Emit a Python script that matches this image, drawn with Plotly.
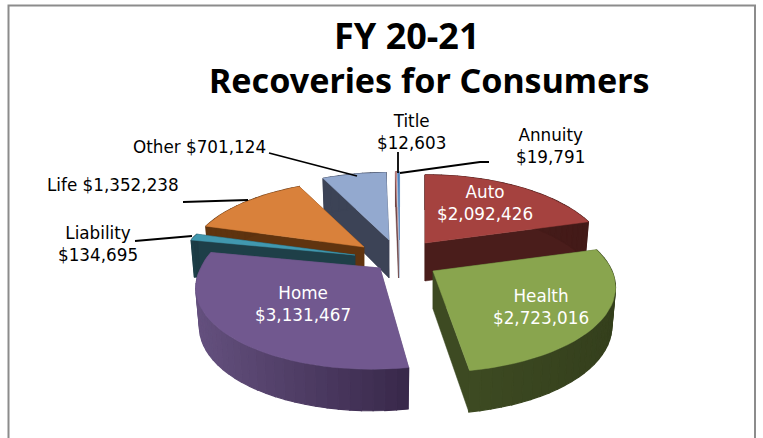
import math
import plotly.graph_objects as go

# ---- data (clockwise from 12 o'clock) ----
categories = ["Auto", "Health", "Home", "Liability", "Life", "Other", "Title", "Annuity"]
values = [2092426, 2723016, 3131467, 134695, 1352238, 701124, 12603, 19791]
value_labels = ["$2,092,426", "$2,723,016", "$3,131,467", "$134,695", "$1,352,238", "$701,124", "$12,603", "$19,791"]

# ---- styling / layout ----
top_colors = ["#A5423F", "#89A54E", "#71588F", "#4198AF", "#D9813B", "#93A9CF", "#D19392", "#4F81BD"]
side_light = ["#4A1D1B", "#3D4A22", "#64507E", "#1E3F48", "#60340F", "#3C4356", "#6E4544", "#B9C9DE"]
side_dark = ["#431A18", "#343F1C", "#38284A", "#1B3A43", "#5A300E", "#3C4356", "#6E4544", "#B9C9DE"]
apex = [(425, 243), (433, 271), (380, 268), (355, 255), (364, 247), (389, 240), (398.5, 240), (399.5, 240)]
scale = [1.0, 1.0, 1.0, 0.97, 0.97, 0.99, 1.0, 1.0]
lean = [0, 0, -8, 0, 0, 0, 0, 0]
draw_order = [0, 5, 6, 7, 4, 3, 2, 1]

A, B, PERSP = 179.0, 81.5, 0.195
start_angle = 0.0
total = sum(values)


def project(theta, ap, k, ln, bottom=False):
    x, y = math.sin(theta), math.cos(theta)
    s = 1 / (1 + PERSP * y)
    dx = A * x * s * k + ln * max(0.0, -y)
    dy = -B * y * s * k
    if bottom:
        return ap[0] + dx * 0.98, ap[1] + dy + 38 - 3.5 * y
    return ap[0] + dx, ap[1] + dy


def lerp_hex(c1, c2, t):
    a = [int(c1[i:i + 2], 16) for i in (1, 3, 5)]
    b = [int(c2[i:i + 2], 16) for i in (1, 3, 5)]
    return "#%02X%02X%02X" % tuple(round(p + (q - p) * t) for p, q in zip(a, b))


fig = go.Figure()


def poly(pts, color, w=0.5):
    xs = [p[0] for p in pts] + [pts[0][0]]
    ys = [p[1] for p in pts] + [pts[0][1]]
    fig.add_trace(go.Scatter(x=xs, y=ys, mode="lines", fill="toself", fillcolor=color,
                             line=dict(color=color, width=w), hoverinfo="skip", showlegend=False))


spans = []
acc = start_angle
for v in values:
    a0 = acc
    acc += v / total * 2 * math.pi
    spans.append((a0, acc))

for i in draw_order:
    a0, a1 = spans[i]
    ap, k, ln = apex[i], scale[i], lean[i]
    n = max(2, int((a1 - a0) / math.radians(3)))
    th = [a0 + (a1 - a0) * j / n for j in range(n + 1)]
    base = (ap[0], ap[1] + 38)
    # radial faces
    for t in (a0, a1):
        poly([ap, project(t, ap, k, ln), project(t, ap, k, ln, True), base], side_light[i])
    # outer wall, shaded left to right
    xr = [project(t, ap, k, ln)[0] for t in th]
    lo, hi = min(xr), max(xr)
    for j in range(n):
        mid = (xr[j] + xr[j + 1]) / 2
        tt = (mid - lo) / (hi - lo) if hi > lo else 0
        poly([project(th[j], ap, k, ln), project(th[j + 1], ap, k, ln),
              project(th[j + 1], ap, k, ln, True), project(th[j], ap, k, ln, True)],
             lerp_hex(side_light[i], side_dark[i], tt), 1.2)
    # top
    poly([ap] + [project(t, ap, k, ln) for t in th], top_colors[i])

# leader lines
leaders = [
    ([269, 357], [153, 176]),
    ([183, 248], [202, 200]),
    ([135, 192], [241, 236]),
    ([398, 398], [152, 173]),
    ([489, 480, 400], [162, 162, 173]),
]
for lx, ly in leaders:
    fig.add_trace(go.Scatter(x=lx, y=ly, mode="lines", line=dict(color="#000000", width=1.8),
                             hoverinfo="skip", showlegend=False))


def note(x, y, text, size, color="#000000", family="DejaVu Sans", weight=400):
    fig.add_annotation(x=x, y=y, xref="x", yref="y", text=text, showarrow=False,
                       font=dict(family=family, size=size, color=color, weight=weight),
                       align="center", xanchor="center", yanchor="middle")


note(407, 35, "FY 20-21", 36, family="Noto Sans", weight=700)
note(429, 80, "Recoveries for Consumers", 34, family="Noto Sans", weight=700)

label_pos = {
    "Auto": (485, 203, "#FFFFFF", True), "Health": (541, 307, "#FFFFFF", True),
    "Home": (303, 304, "#FFFFFF", True), "Liability": (98, 244, "#000000", True),
    "Life": (113, 185, "#000000", False), "Other": (199, 147, "#000000", False),
    "Title": (411, 132, "#000000", True), "Annuity": (550, 146, "#000000", True),
}
for cat, val in zip(categories, value_labels):
    x, y, col, two = label_pos[cat]
    note(x, y, f"{cat}<br>{val}" if two else f"{cat} {val}", 16.8, col)

fig.update_layout(
    width=763, height=438, margin=dict(l=0, r=0, t=0, b=0),
    paper_bgcolor="#FFFFFF", plot_bgcolor="#FFFFFF", showlegend=False,
    xaxis=dict(range=[0, 763], visible=False, fixedrange=True),
    yaxis=dict(range=[438, 0], visible=False, fixedrange=True),
    shapes=[dict(type="path", path="M 8.5 440 L 8.5 5.5 L 755 5.5 L 755 440", xref="x", yref="y",
                 line=dict(color="#8C8C8C", width=2))],
)
fig.write_html("out.html", config={"displayModeBar": False},
               post_script="document.body.style.margin='0';document.body.style.overflow='hidden';")
